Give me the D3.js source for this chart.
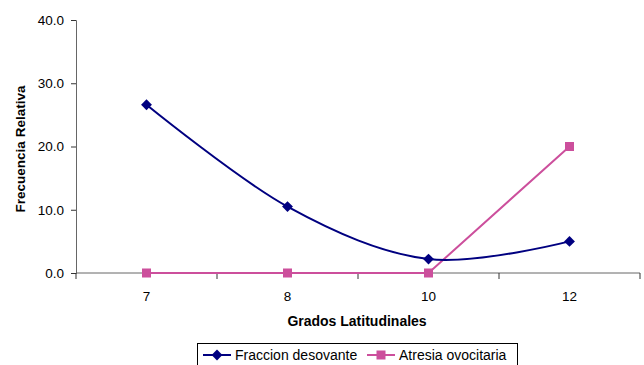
<!DOCTYPE html>
<html>
<head>
<meta charset="utf-8">
<script src="https://cdn.jsdelivr.net/npm/d3@7/dist/d3.min.js"></script>
<style>
  html, body { margin: 0; padding: 0; background: #fff; }
  svg { display: block; font-family: "Liberation Sans", Arial, sans-serif; }
</style>
</head>
<body>
<svg id="chart" width="644" height="365"></svg>
<script>
// Latitude categories and relative frequencies per series
const categories = ["7", "8", "10", "12"];
const fraccionDesovante = [26.6, 10.5, 2.2, 5.0];
const atresiaOvocitaria = [0.0, 0.0, 0.0, 20.0];
const yTicks = [0, 10, 20, 30, 40];

const svg = d3.select("#chart");
const margin = { left: 76, right: 4, top: 20, bottom: 92 };
const W = 644, H = 365;
const plotW = W - margin.left - margin.right;
const plotH = H - margin.top - margin.bottom;

const x = d3.scaleBand().domain(categories).range([margin.left, margin.left + plotW]);
const y = d3.scaleLinear().domain([0, 40]).range([margin.top + plotH, margin.top]);
const cx = c => x(c) + x.bandwidth() / 2;

const navy = "#000080";
const pink = "#cc4f9c";
const axisColor = "#666";

// Y axis
const yAxis = svg.append("g")
  .attr("transform", `translate(${margin.left},0)`)
  .call(d3.axisLeft(y).tickValues(yTicks).tickFormat(d3.format(".1f")).tickSize(5).tickPadding(7));
yAxis.select(".domain").attr("stroke", axisColor);
yAxis.selectAll(".tick line").attr("stroke", "#333");
yAxis.selectAll("text").attr("font-size", 13.5).attr("fill", "#000");

// X axis: ticks on category boundaries, labels at band centres
const xAxis = svg.append("g")
  .attr("transform", `translate(0,${y(0)})`);
xAxis.append("line")
  .attr("x1", margin.left).attr("x2", margin.left + plotW)
  .attr("stroke", axisColor);
const boundaries = categories.map(c => x(c)).concat([x(categories[categories.length - 1]) + x.bandwidth()]);
xAxis.selectAll("line.tk").data(boundaries).enter().append("line")
  .attr("class", "tk")
  .attr("x1", d => d).attr("x2", d => d)
  .attr("y1", 0).attr("y2", 6)
  .attr("stroke", "#333");
xAxis.selectAll("text").data(categories).enter().append("text")
  .attr("x", d => cx(d)).attr("y", 28)
  .attr("text-anchor", "middle")
  .attr("font-size", 13.5)
  .text(d => d);

// Axis titles
svg.append("text")
  .attr("x", 357).attr("y", 326)
  .attr("text-anchor", "middle").attr("font-weight", "bold").attr("font-size", 14)
  .text("Grados Latitudinales");
svg.append("text")
  .attr("transform", `translate(25,149) rotate(-90)`)
  .attr("text-anchor", "middle").attr("font-weight", "bold").attr("font-size", 13.5)
  .text("Frecuencia Relativa");

// Series lines
const smooth = d3.line().x((d, i) => cx(categories[i])).y(d => y(d)).curve(d3.curveCatmullRom.alpha(0));
const straight = d3.line().x((d, i) => cx(categories[i])).y(d => y(d));

svg.append("path").attr("d", straight(atresiaOvocitaria))
  .attr("fill", "none").attr("stroke", pink).attr("stroke-width", 2);
svg.append("path").attr("d", smooth(fraccionDesovante))
  .attr("fill", "none").attr("stroke", navy).attr("stroke-width", 2);

// Markers
const diamond = d3.symbol().type(d3.symbolDiamond2).size(75);
svg.selectAll("rect.sq").data(atresiaOvocitaria).enter().append("rect")
  .attr("class", "sq")
  .attr("x", (d, i) => cx(categories[i]) - 4.5).attr("y", d => y(d) - 4.5)
  .attr("width", 9).attr("height", 9).attr("fill", pink);
svg.selectAll("path.dm").data(fraccionDesovante).enter().append("path")
  .attr("class", "dm")
  .attr("transform", (d, i) => `translate(${cx(categories[i])},${y(d)})`)
  .attr("d", diamond).attr("fill", navy);

// Legend
const lg = svg.append("g");
lg.append("rect").attr("x", 197.5).attr("y", 343.5).attr("width", 320).attr("height", 30)
  .attr("fill", "#fff").attr("stroke", "#000");
const items = [
  { name: "Fraccion desovante", color: navy, x0: 203, marker: "diamond" },
  { name: "Atresia ovocitaria", color: pink, x0: 367, marker: "square" }
];
items.forEach(it => {
  const ly = 355;
  lg.append("line").attr("x1", it.x0).attr("x2", it.x0 + 28).attr("y1", ly).attr("y2", ly)
    .attr("stroke", it.color).attr("stroke-width", 2);
  if (it.marker === "diamond") {
    lg.append("path").attr("transform", `translate(${it.x0 + 14},${ly})`).attr("d", diamond).attr("fill", it.color);
  } else {
    lg.append("rect").attr("x", it.x0 + 14 - 4.5).attr("y", ly - 4.5).attr("width", 9).attr("height", 9).attr("fill", it.color);
  }
  lg.append("text").attr("x", it.x0 + 32).attr("y", ly + 5).attr("font-size", 14).text(it.name);
});
</script>
</body>
</html>
